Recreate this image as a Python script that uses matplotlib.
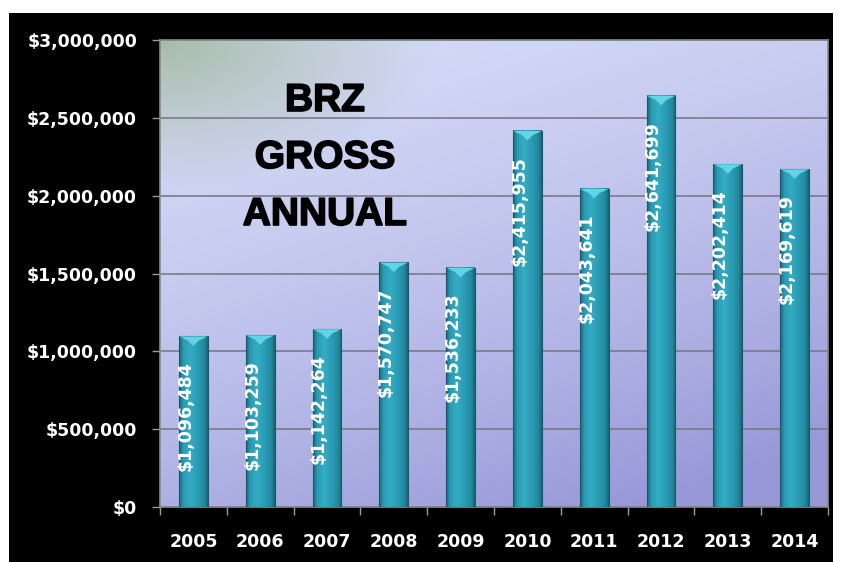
import numpy as np
import matplotlib
matplotlib.use("Agg")
import matplotlib.pyplot as plt
import matplotlib.patheffects as pe
from matplotlib.patches import Rectangle, Polygon
from matplotlib.colors import to_rgb
from matplotlib.ticker import FuncFormatter, MultipleLocator

years = ["2005", "2006", "2007", "2008", "2009", "2010", "2011", "2012", "2013", "2014"]
gross = [1096484, 1103259, 1142264, 1570747, 1536233, 2415955, 2043641, 2641699, 2202414, 2169619]
title_lines = ["BRZ", "GROSS", "ANNUAL"]

W, H, DPI = 841, 562, 100
fig = plt.figure(figsize=(W / DPI, H / DPI), dpi=DPI, facecolor="white")

# black chart frame
fig.add_artist(Rectangle((9 / W, 0), (833 - 9) / W, (H - 13) / H,
                         transform=fig.transFigure, facecolor="black",
                         edgecolor="none", zorder=-5))

ax = fig.add_axes([160 / W, 55 / H, 668 / W, 467 / H])
ax.set_zorder(1)
ax.set_facecolor("#c8ccf0")

# background gradient
ny, nx = 200, 300
xx, yy = np.meshgrid(np.linspace(0, 1, nx), np.linspace(0, 1, ny))  # yy=0 top
c_top = np.array(to_rgb("#d6dcf8"))
c_bot = np.array(to_rgb("#9898d8"))
t = np.clip(0.35 * xx + 0.75 * yy, 0, 1) ** 1.5
img = c_top[None, None, :] * (1 - t[..., None]) + c_bot[None, None, :] * t[..., None]
green = np.array(to_rgb("#a8bca8"))
r = np.sqrt((xx / 0.42) ** 2 + (yy / 0.33) ** 2)
g = np.clip(1 - r, 0, 1) ** 1.1
img = img * (1 - g[..., None]) + green[None, None, :] * g[..., None]
ax.imshow(img, extent=[0, 1, 0, 1], transform=ax.transAxes, aspect="auto",
          zorder=0, interpolation="bilinear")

# bars with cylinder-like gradient
bw = 0.43
x = np.arange(len(years))
stops = np.array([to_rgb(c) for c in ["#1d6878", "#2a9cb5", "#35acc4", "#2a9cb5", "#22889e", "#1a6474"]])
pos = np.array([0.0, 0.15, 0.38, 0.65, 0.88, 1.0])
u = np.linspace(0, 1, 60)
grad = np.stack([np.interp(u, pos, stops[:, k]) for k in range(3)], axis=-1)[None, :, :]
cap_d = 62000
for xi, v in zip(x, gross):
    x0, x1 = xi - bw / 2, xi + bw / 2
    ax.imshow(grad, extent=[x0, x1, 0, v], aspect="auto", zorder=3, interpolation="bilinear")
    ax.add_patch(Rectangle((x0, 0), bw, v, facecolor="none", edgecolor="#175a66",
                           lw=0.8, zorder=4))
    ax.add_patch(Polygon([(x0, v), (x1, v), (xi + bw * 0.18, v - cap_d * 0.45),
                          (xi, v - cap_d), (xi - bw * 0.18, v - cap_d * 0.45)],
                         closed=True, facecolor="#62d4e6", edgecolor="none", zorder=4))
    ax.annotate(f"${v:,.0f}", xy=(xi - 0.12, v), xytext=(0, -25),
                textcoords="offset pixels", rotation=90, ha="center", va="top",
                color="white", fontsize=12.5, fontweight="bold", zorder=5)

ax.set_xlim(-0.5, len(years) - 0.5)
ax.set_ylim(0, 3000000)
ax.yaxis.set_major_locator(MultipleLocator(500000))
ax.yaxis.set_major_formatter(FuncFormatter(lambda v, p: f"${v:,.0f}"))
ax.grid(axis="y", color="#7a7a86", lw=1.2, zorder=1)
ax.set_axisbelow(True)

ax.set_xticks(x)
ax.set_xticklabels(years)
ax.set_xticks(np.arange(len(years) + 1) - 0.5, minor=True)
ax.tick_params(axis="x", which="major", length=0, pad=19, colors="white", labelsize=12.5)
ax.tick_params(axis="x", which="minor", length=6, width=1, color="#9a9a9a")
ax.tick_params(axis="y", length=6, width=1, color="#9a9a9a", pad=10.5,
               labelcolor="white", labelsize=12.5)
for lab in ax.get_xticklabels() + ax.get_yticklabels():
    lab.set_fontweight("bold")

for s in ax.spines.values():
    s.set_color("#8a8a8a")
    s.set_linewidth(1.2)

# title text (pixel coordinates measured from the top of the image)
for i, line in enumerate(title_lines):
    ax.text(325, H - (101 + 57 * i), line, transform=None, ha="center", va="center",
            fontsize=28, fontweight="bold", family="Liberation Sans",
            color="black", zorder=6,
            path_effects=[pe.withStroke(linewidth=1.2, foreground="black")])

fig.savefig("out.png", dpi=DPI, facecolor="white")
